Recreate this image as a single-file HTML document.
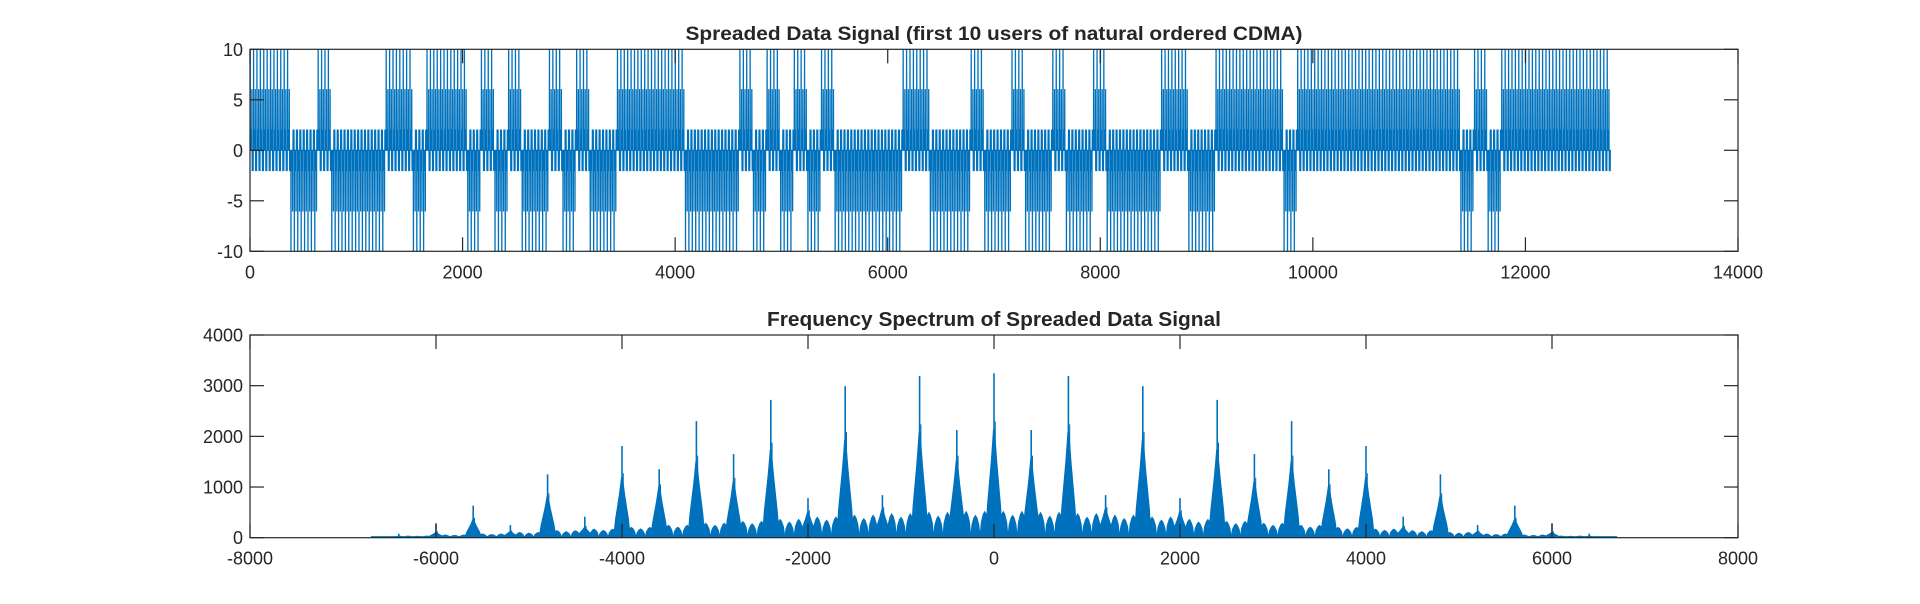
<!DOCTYPE html>
<html><head><meta charset="utf-8"><style>
html,body{margin:0;padding:0;background:#fff;}
svg{display:block;}
text{font-family:"Liberation Sans",Arial,sans-serif;fill:#262626;}
</style></head>
<body>
<svg id="fig" width="1920" height="604" viewBox="0 0 1920 604" xmlns="http://www.w3.org/2000/svg">
<defs>
<clipPath id="clipTop"><rect x="250" y="49.3" width="1488" height="202"/></clipPath>
<clipPath id="clipBot"><rect x="250" y="335" width="1488" height="203"/></clipPath>
</defs>
<text x="994" y="40" text-anchor="middle" font-size="19" font-weight="bold" textLength="617" lengthAdjust="spacingAndGlyphs">Spreaded Data Signal (first 10 users of natural ordered CDMA)</text>
<text x="994" y="326" text-anchor="middle" font-size="20" font-weight="bold" textLength="454" lengthAdjust="spacingAndGlyphs">Frequency Spectrum of Spreaded Data Signal</text>
<g id="topPlot"></g>
<g id="botPlot"></g>
</svg>
<script>
// ---------- Top chart data ----------
const bitRuns = [3,2,1,4,2,1,3,1,1,1,1,2,1,1,1,2,5,4,1,1,1,1,1,1,1,5,2,3,1,2,1,2,1,2,1,4,2,2,5,1,12,1,1,1,8];
const samplesPerBit = 128;
const topXTicks = [0,2000,4000,6000,8000,10000,12000,14000];
const topYTicks = [-10,-5,0,5,10];

// ---------- Bottom chart data ----------
const peakFreqs = [-6400,-6000,-5600,-5200,-4800,-4400,-4000,-3600,-3200,-2800,-2400,-2000,-1600,-1200,-800,-400,0,400,800,1200,1600,2000,2400,2800,3200,3600,4000,4400,4800,5200,5600,6000,6400];
const peakTops  = [80,284,632,250,1250,415,1810,1350,2300,1650,2720,780,2990,840,3190,2125,3245,2125,3190,840,2990,780,2720,1650,2300,1350,1810,415,1250,250,632,284,80];
const peakBodies= [30,100,350,120,810,200,1180,1000,1500,1100,1730,500,1930,560,2070,1530,2125,1530,2070,560,1930,500,1730,1100,1500,1000,1180,200,810,120,350,100,30];
const floorHumps= [20,40,60,80,120,150,180,220,260,300,330,380,420,450,480,500,520,500,480,450,420,380,330,300,260,220,180,150,120,80,60,40,20];
const botXTicks = [-8000,-6000,-4000,-2000,0,2000,4000,6000,8000];
const botYTicks = [0,1000,2000,3000,4000];

const NS='http://www.w3.org/2000/svg';
const BLUE='#0072BD';
function mk(tag,attrs,parent){const e=document.createElementNS(NS,tag);for(const k in attrs)e.setAttribute(k,attrs[k]);parent.appendChild(e);return e;}

const L=250,R=1738;
const tT=49.3,tB=251.3, bT=335,bB=537.7;
const xTop=v=>L+(v/14000)*(R-L);
const yTop=v=>tB-((v+10)/20)*(tB-tT);
const xBot=v=>L+((v+8000)/16000)*(R-L);
const yBot=v=>bB-(v/4000)*(bB-bT);

function axes(g,top,bot,xt,yt,xf,yf,prefix){
  const box=mk('rect',{x:L,y:top,width:R-L,height:bot-top,fill:'none',stroke:'#262626','stroke-width':1.2},g);
  
  
  xt.forEach(v=>{
    const x=xf(v);
    const t1=mk('line',{x1:x,y1:bot,x2:x,y2:bot-14,stroke:'#262626','stroke-width':1.2},g);
    
    
    const t2=mk('line',{x1:x,y1:top,x2:x,y2:top+14,stroke:'#262626','stroke-width':1.2},g);
    
    
    const lb=mk('text',{x:x,y:bot+27,'text-anchor':'middle','font-size':18},g);
    lb.textContent=v;
    
    
  });
  yt.forEach(v=>{
    const y=yf(v);
    const t1=mk('line',{x1:L,y1:y,x2:L+14,y2:y,stroke:'#262626','stroke-width':1.2},g);
    
    
    const t2=mk('line',{x1:R,y1:y,x2:R-14,y2:y,stroke:'#262626','stroke-width':1.2},g);
    
    
    const lb=mk('text',{x:L-7,y:y+6.5,'text-anchor':'end','font-size':18},g);
    lb.textContent=v;
    
    
  });
}

// ---------- draw top ----------
const gT=document.getElementById('topPlot');
const bits=[];let pol=1;
bitRuns.forEach(r=>{for(let i=0;i<r;i++)bits.push(pol);pol=-pol;});
function pop(n){let c=0;while(n){c+=n&1;n>>=1;}return c;}
function code(k){let s=0;for(let i=0;i<10;i++)s+=(pop(i&k)%2?-1:1);return s;}
let pts=[];let n=0;
bits.forEach(b=>{
  for(let s=0;s<samplesPerBit;s++){
    const k=Math.floor(s/2)%64;
    pts.push(xTop(n+1).toFixed(2)+','+yTop(b*code(k)).toFixed(2));
    n++;
  }
});
const sig=mk('polyline',{points:pts.join(' '),fill:'none',stroke:BLUE,'stroke-width':1.2,'clip-path':'url(#clipTop)'},gT);


axes(gT,tT,tB,topXTicks,topYTicks,xTop,yTop,'top');

// ---------- draw bottom ----------
const gB=document.getElementById('botPlot');
const gm=mk('g',{'clip-path':'url(#clipBot)'},gB);


const base=mk('line',{x1:xBot(-6700),y1:yBot(0)-0.8,x2:xBot(6700),y2:yBot(0)-0.8,stroke:BLUE,'stroke-width':1.5},gm);


peakFreqs.forEach((f,i)=>{
  if(i<peakFreqs.length-1){
    const h=(floorHumps[i]+floorHumps[i+1])/2;
    [100,200,300].forEach(off=>{
      const c=f+off, hh=h*(off===200?0.85:1);
      const p=[[c-50,0],[c-35,hh*0.6],[c-15,hh*0.9],[c,hh],[c+15,hh*0.9],[c+35,hh*0.6],[c+50,0]];
      const hump=mk('polygon',{points:p.map(q=>xBot(q[0]).toFixed(2)+','+yBot(q[1]).toFixed(2)).join(' '),fill:BLUE,stroke:BLUE,'stroke-width':1.2},gm);
      
      
    });
  }
  const b=peakBodies[i],t=peakTops[i];
  const p=[[f-90,0],[f-70,b*0.3],[f-50,b*0.5],[f-30,b*0.7],[f-15,b*0.88],[f-6,b],[f+6,b],[f+15,b*0.88],[f+30,b*0.7],[f+50,b*0.5],[f+70,b*0.3],[f+90,0]];
  const body=mk('polygon',{points:p.map(q=>xBot(q[0]).toFixed(2)+','+yBot(q[1]).toFixed(2)).join(' '),fill:BLUE,stroke:BLUE,'stroke-width':1},gm);
  
  
  const sp=mk('line',{x1:xBot(f),y1:yBot(0),x2:xBot(f),y2:yBot(t),stroke:BLUE,'stroke-width':1.6},gm);
  
  
  const sp2=mk('line',{x1:xBot(f+14),y1:yBot(0),x2:xBot(f+14),y2:yBot(b+(t-b)*0.15),stroke:BLUE,'stroke-width':1},gm);
  
  
});
axes(gB,bT,bB,botXTicks,botYTicks,xBot,yBot,'bottom');
</script>
</body></html>
